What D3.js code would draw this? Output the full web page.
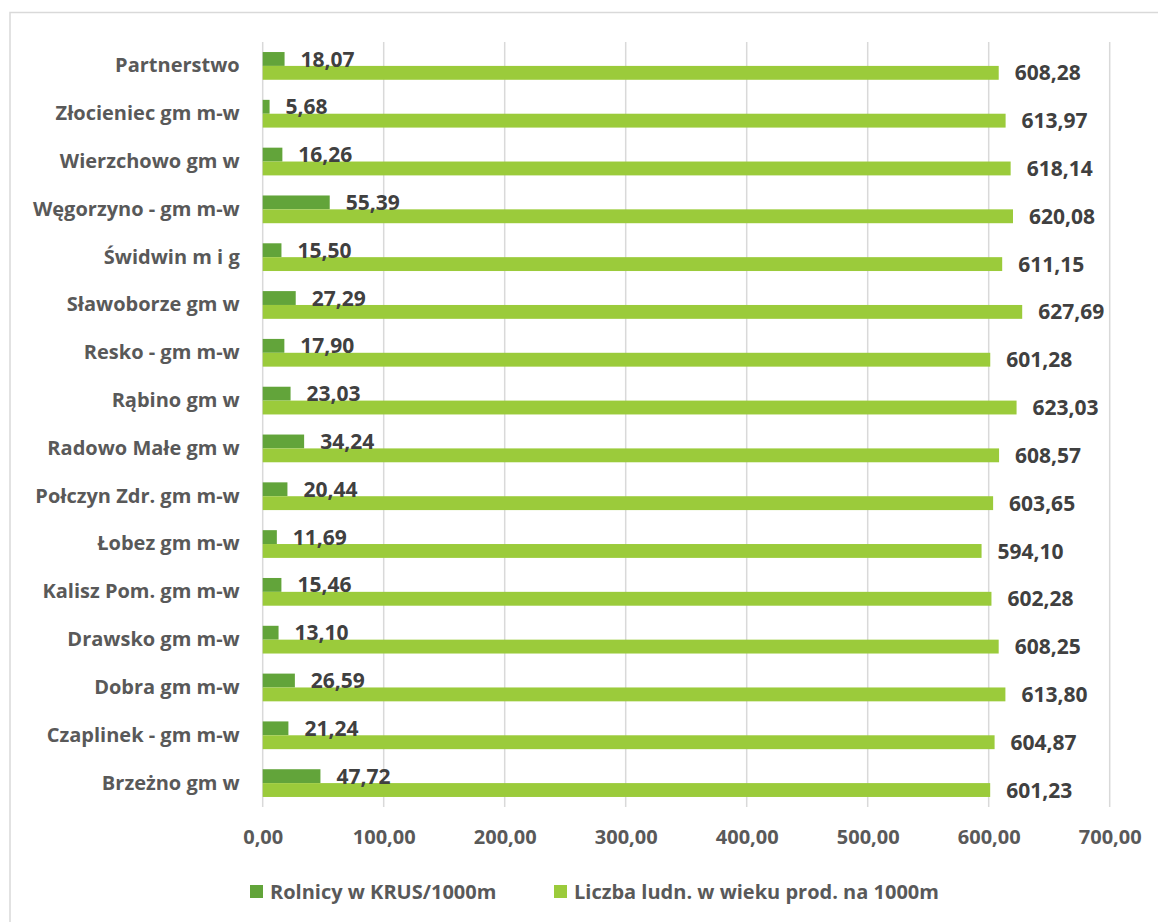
<!DOCTYPE html>
<html><head><meta charset="utf-8">
<script src="https://cdn.jsdelivr.net/npm/d3@7"></script>
<style>html,body{margin:0;padding:0;background:#fff;}</style>
</head><body>
<svg id="c" width="1158" height="922"></svg>
<script>
const categories = ["Partnerstwo","Złocieniec gm m-w","Wierzchowo gm w","Węgorzyno - gm m-w","Świdwin m i g","Sławoborze gm w","Resko - gm m-w","Rąbino gm w","Radowo Małe gm w","Połczyn Zdr. gm m-w","Łobez gm m-w","Kalisz Pom. gm m-w","Drawsko gm m-w","Dobra gm m-w","Czaplinek - gm m-w","Brzeżno gm w"];
const rolnicy = [18.07,5.68,16.26,55.39,15.50,27.29,17.90,23.03,34.24,20.44,11.69,15.46,13.10,26.59,21.24,47.72];
const ludnosc = [608.28,613.97,618.14,620.08,611.15,627.69,601.28,623.03,608.57,603.65,594.10,602.28,608.25,613.80,604.87,601.23];
const seriesNames = ["Rolnicy w KRUS/1000m","Liczba ludn. w wieku prod. na 1000m"];
const tickValues = [0,100,200,300,400,500,600,700];
const colors = ["#62a43a","#9bcb3b"];

const fmt = v => v.toFixed(2).replace(".", ",");
const font = "'Open Sans', sans-serif";
const svg = d3.select("#c");

svg.append("rect").attr("x",10).attr("y",12.5).attr("width",1170).attr("height",940)
  .attr("fill","#fff").attr("stroke","#d9d9d9").attr("stroke-width",1.5);

const x = d3.scaleLinear().domain([0,700]).range([262.7,1109.7]);
const y = d3.scaleBand().domain(categories).range([42,807]).paddingInner(0.42).paddingOuter(0.21);
const sub = d3.scaleBand().domain([0,1]).range([0,y.bandwidth()]);

// gridlines
svg.append("g").selectAll("line").data(tickValues).join("line")
  .attr("x1",d=>x(d)).attr("x2",d=>x(d)).attr("y1",42).attr("y2",807)
  .attr("stroke","#d9d9d9").attr("stroke-width",1.5);

// x axis labels
const xAxis = d3.axisBottom(x).tickValues(tickValues).tickFormat(fmt).tickSize(0).tickPadding(0);
const gx = svg.append("g").attr("transform","translate(0,807)").call(xAxis);
gx.select(".domain").remove();
gx.selectAll("text").attr("y",30).attr("dy","0.35em").attr("font-family",font).attr("font-weight","bold")
  .attr("font-size",20).attr("fill","#595959");

// y axis labels
const yAxis = d3.axisLeft(y).tickSize(0).tickPadding(23);
const gy = svg.append("g").attr("transform",`translate(${x(0)},0)`).call(yAxis);
gy.select(".domain").remove();
gy.selectAll("text").attr("font-family",font).attr("font-weight","bold").attr("font-size",20).attr("fill","#595959");

const series = [rolnicy, ludnosc];
const barG = svg.append("g");
const labG = svg.append("g");
series.forEach((vals,si)=>{
  barG.append("g").selectAll("rect").data(vals).join("rect")
    .attr("x",x(0)).attr("y",(d,i)=>y(categories[i])+sub(si))
    .attr("width",d=>x(d)-x(0)).attr("height",sub.bandwidth())
    .attr("fill",colors[si]);
  labG.append("g").selectAll("text").data(vals).join("text")
    .attr("x",d=>x(d)+16).attr("y",(d,i)=>y(categories[i])+sub(si)+sub.bandwidth()/2)
    .attr("dy","0.36em").attr("font-family",font).attr("font-weight","bold").attr("font-size",21)
    .attr("fill","#404040").text(fmt);
});

// legend
const legX = [250,554];
seriesNames.forEach((n,i)=>{
  svg.append("rect").attr("x",legX[i]).attr("y",885).attr("width",13).attr("height",13).attr("fill",colors[i]);
  svg.append("text").attr("x",legX[i]+20).attr("y",892).attr("dy","0.35em").attr("font-family",font)
    .attr("font-weight","bold").attr("font-size",20).attr("fill","#595959").text(n);
});
</script>
</body></html>
